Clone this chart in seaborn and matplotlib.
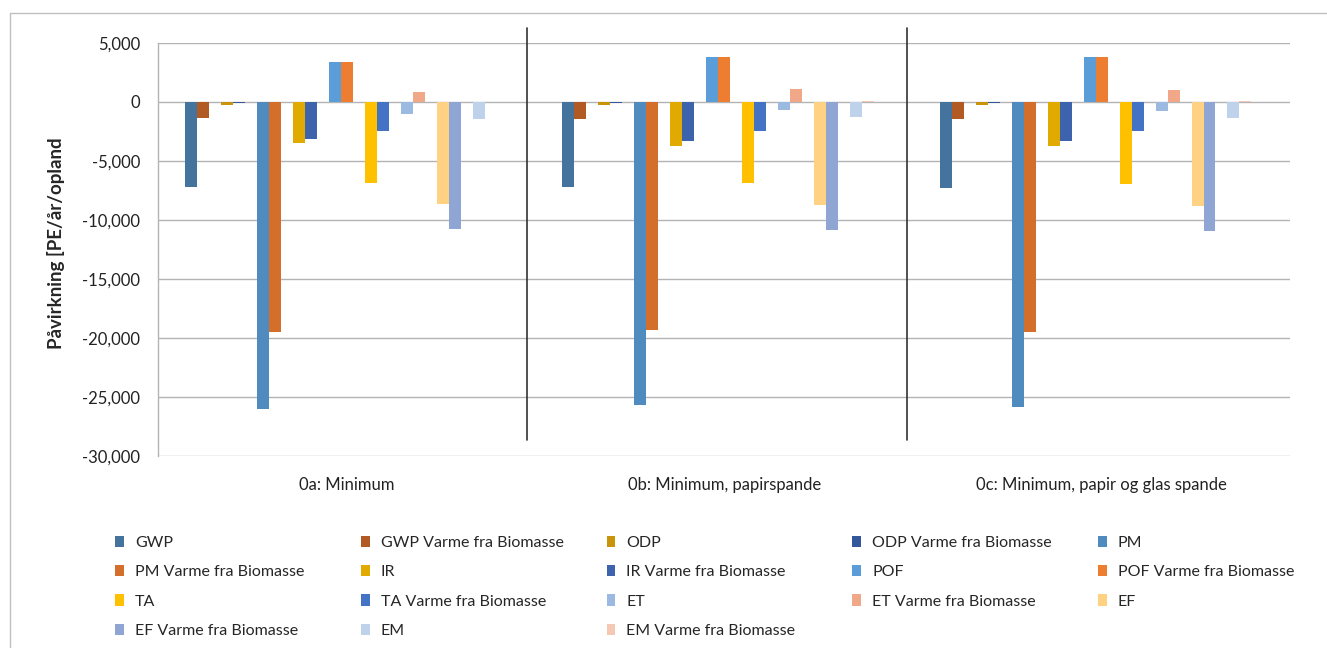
import numpy as np
import pandas as pd
import matplotlib.pyplot as plt
import seaborn as sns
from matplotlib.lines import Line2D
from matplotlib.patches import Patch
from matplotlib.ticker import FuncFormatter

# ---- data (PE/year/catchment) -------------------------------------------
SCENARIOS = ["0a: Minimum", "0b: Minimum, papirspande", "0c: Minimum, papir og glas spande"]
SERIES = ["GWP", "GWP Varme fra Biomasse", "ODP", "ODP Varme fra Biomasse",
          "PM", "PM Varme fra Biomasse", "IR", "IR Varme fra Biomasse",
          "POF", "POF Varme fra Biomasse", "TA", "TA Varme fra Biomasse",
          "ET", "ET Varme fra Biomasse", "EF", "EF Varme fra Biomasse",
          "EM", "EM Varme fra Biomasse"]
COLORS = ["#44739e", "#b25a23", "#c8940a", "#34579b",
          "#4f8bbf", "#d36e2b", "#e1aa00", "#3c63ab",
          "#5b9dd8", "#ed7d31", "#ffc000", "#4472c4",
          "#9cbae1", "#f0a888", "#ffd283", "#8fa5d4",
          "#bed2ec", "#f5c8b4"]

val_0a = [-7200, -1320, -250, -110, -26000, -19500, -3500, -3150, 3420, 3420,
          -6900, -2430, -990, 850, -8620, -10750, -1470, 10]
val_0b = [-7230, -1470, -250, -110, -25720, -19350, -3700, -3330, 3780, 3780,
          -6900, -2490, -710, 1070, -8730, -10840, -1300, 80]
val_0c = [-7250, -1470, -250, -110, -25860, -19500, -3700, -3330, 3780, 3780,
          -6930, -2490, -740, 1010, -8790, -10890, -1330, 80]

rows = []
for sc, vals in zip(SCENARIOS, [val_0a, val_0b, val_0c]):
    for s, v in zip(SERIES, vals):
        rows.append({"scenario": sc, "series": s, "value": v})
df = pd.DataFrame(rows)

# empty slot after every indicator pair (as in the original workbook layout)
hue_order = []
for i in range(0, len(SERIES), 2):
    hue_order += [SERIES[i], SERIES[i + 1], f"_gap{i}"]
palette = {s: c for s, c in zip(SERIES, COLORS)}
palette.update({h: "white" for h in hue_order if h.startswith("_gap")})

# ---- plot ----------------------------------------------------------------
sns.set_style("white")
plt.rcParams["font.family"] = ["Lato", "DejaVu Sans"]

fig = plt.figure(figsize=(13.27, 6.48), dpi=100)
ax = fig.add_axes([158.25 / 1327, 1 - 456 / 648, 1132 / 1327, 413 / 648])

sns.barplot(data=df, x="scenario", y="value", hue="series", hue_order=hue_order,
            palette=palette, order=SCENARIOS, width=0.858, errorbar=None,
            saturation=1, linewidth=0, legend=False, ax=ax)

ax.set_ylim(-30000, 5000)
ax.set_yticks(np.arange(-30000, 5001, 5000))
ax.yaxis.set_major_formatter(FuncFormatter(lambda v, _: f"{v:,.0f}"))
ax.set_xlim(-0.5, 2.5)
ax.grid(axis="y", color="#b3b3b3", lw=1.0)
ax.set_axisbelow(True)
for side in ["top", "right", "bottom"]:
    ax.spines[side].set_visible(False)
ax.spines["left"].set_color("#b3b3b3")
ax.spines["left"].set_linewidth(1.0)
ax.tick_params(axis="y", length=0, pad=13, labelsize=12, colors="#222222")
ax.tick_params(axis="x", length=0, pad=15, labelsize=12, colors="#222222")
ax.set_xlabel("")
ax.set_ylabel("Påvirkning [PE/år/opland", fontsize=13.5, fontweight="bold")
ax.yaxis.set_label_coords(-0.082, 0.516)

# scenario separators
for xb in [0.478, 1.485]:
    ax.plot([xb, xb], [0.039, 1.036], color="#333333", lw=1.2,
            transform=ax.get_xaxis_transform(), clip_on=False)

# legend: Excel fills rows of 5 with fixed column width -> one legend per column
ncol = 5
col_pitch = 245.75
for c in range(ncol):
    idx = list(range(c, len(SERIES), ncol))
    fig.legend([Patch(facecolor=COLORS[i], edgecolor="none") for i in idx],
               [SERIES[i] for i in idx], loc="upper left",
               bbox_to_anchor=((115 + c * col_pitch) / 1327, 1 - 536 / 648),
               frameon=False, fontsize=11.5, handlelength=0.55, handleheight=0.7,
               handletextpad=0.7, labelspacing=0.94, borderaxespad=0, borderpad=0)

# chart border (top/left visible)
fig.add_artist(Line2D([10 / 1327, 10 / 1327], [0, 1 - 13 / 648], color="#c0c0c0", lw=1))
fig.add_artist(Line2D([10 / 1327, 1], [1 - 13 / 648, 1 - 13 / 648], color="#c0c0c0", lw=1))

fig.savefig("out.png", dpi=100)
